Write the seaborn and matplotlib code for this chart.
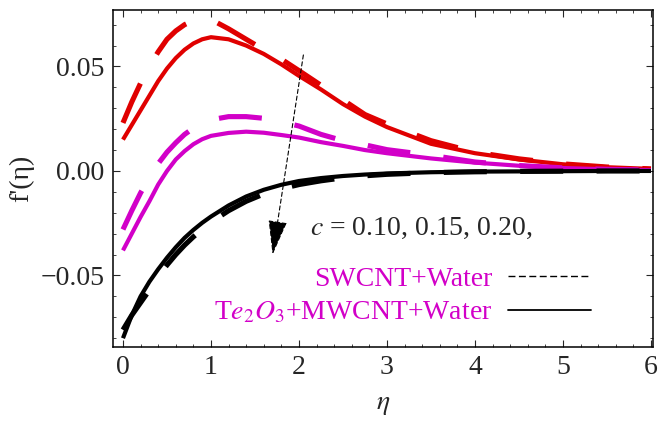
import matplotlib
matplotlib.use("Agg")
import matplotlib.pyplot as plt
import seaborn as sns
import numpy as np
from matplotlib.lines import Line2D
from matplotlib.ticker import MultipleLocator, FuncFormatter

# data
eta = [0, 0.1, 0.2, 0.3, 0.4, 0.5, 0.6, 0.7, 0.8, 0.9, 1.0, 1.2, 1.4, 1.6, 1.8,
       2.0, 2.25, 2.5, 2.75, 3.0, 3.5, 4.0, 4.5, 5.0, 5.5, 6.0]

red_solid = [0.015, 0.022, 0.029, 0.036, 0.043, 0.049, 0.054, 0.058, 0.061, 0.063,
             0.064, 0.063, 0.060, 0.056, 0.051, 0.0455, 0.039, 0.032, 0.026, 0.021,
             0.013, 0.0085, 0.0055, 0.0032, 0.0018, 0.001]
red_dash = [0.023, 0.033, 0.042, 0.050, 0.057, 0.063, 0.067, 0.070, 0.072, 0.0728,
            0.0725, 0.068, 0.063, 0.058, 0.0535, 0.048, 0.041, 0.034, 0.027, 0.0225,
            0.0145, 0.009, 0.0058, 0.0034, 0.0019, 0.001]
mag_solid = [-0.038, -0.030, -0.022, -0.0145, -0.0065, 0.0, 0.0055, 0.0095, 0.0128, 0.0152,
             0.0168, 0.0182, 0.0188, 0.0183, 0.0172, 0.016, 0.0138, 0.012, 0.010, 0.0085,
             0.006, 0.004, 0.0025, 0.0014, 0.0008, 0.0004]
mag_dash = [-0.028, -0.019, -0.0105, -0.003, 0.0035, 0.009, 0.0135, 0.0175, 0.0205, 0.023,
            0.0245, 0.026, 0.026, 0.0252, 0.0235, 0.0215, 0.0175, 0.0145, 0.0125, 0.0102,
            0.0075, 0.0043, 0.0026, 0.0015, 0.0008, 0.0004]
blk_solid = [-0.080, -0.069, -0.060, -0.053, -0.047, -0.0415, -0.0365, -0.032, -0.0282, -0.0248,
             -0.0218, -0.0165, -0.0122, -0.009, -0.0066, -0.0048, -0.0034, -0.0024, -0.0017,
             -0.0012, -0.0006, -0.0003, -0.0002, -0.0001, 0.0, 0.0]
blk_dash = [-0.076, -0.069, -0.063, -0.057, -0.0505, -0.045, -0.040, -0.0355, -0.0315, -0.028,
            -0.0245, -0.019, -0.0145, -0.011, -0.0085, -0.0065, -0.0047, -0.0033, -0.0023,
            -0.0016, -0.0008, -0.0004, -0.0002, -0.0001, 0.0, 0.0]

arrow_start = (2.05, 0.0555)
arrow_end = (1.70, -0.040)

RED = "#e00000"
MAG = "#d200c8"

sns.set_style("ticks")
plt.rcParams["font.family"] = ["Liberation Serif", "DejaVu Serif"]
plt.rcParams["mathtext.fontset"] = "stix"
plt.rcParams["lines.scale_dashes"] = False

fig = plt.figure(figsize=(6.58, 4.21), dpi=100)
ax = fig.add_axes([0.1717, 0.1758, 0.8207, 0.8004])

long_dash = (0, (31, 24))
for solid, dash, col in [(red_solid, red_dash, RED),
                         (mag_solid, mag_dash, MAG),
                         (blk_solid, blk_dash, "black")]:
    sns.lineplot(x=eta, y=solid, ax=ax, color=col, lw=3.0, solid_capstyle="butt")
    sns.lineplot(x=eta, y=dash, ax=ax, color=col, lw=3.7, linestyle=long_dash,
                 dash_capstyle="butt")

# arrow showing increasing c
ax.annotate("", xy=arrow_end, xytext=arrow_start,
            arrowprops=dict(arrowstyle="-|>,head_length=1.1,head_width=0.3",
                            color="black", lw=0.8, linestyle=(0, (3, 2)),
                            mutation_scale=20, shrinkA=0, shrinkB=0))

ax.text(2.12, -0.0273, r"$c$ = 0.10, 0.15, 0.20,", fontsize=20, va="center", ha="left")

handles = [Line2D([], [], color="black", lw=1.0, linestyle=(0, (5, 2.5))),
           Line2D([], [], color="black", lw=1.3)]
labels = ["SWCNT+Water", r"T$e_2O_3$+MWCNT+Water"]
ax.legend(handles, labels, loc="upper right", bbox_to_anchor=(0.885, 0.24),
          frameon=False, markerfirst=False, fontsize=20, labelcolor=MAG,
          handlelength=3.0, handletextpad=0.55, labelspacing=0.3,
          borderpad=0, borderaxespad=0)

ax.set_xlim(-0.1136, 6.023)
ax.set_ylim(-0.0842, 0.0770)
ax.xaxis.set_major_locator(MultipleLocator(1))
ax.xaxis.set_minor_locator(MultipleLocator(0.2))
ax.yaxis.set_major_locator(MultipleLocator(0.05))
ax.yaxis.set_minor_locator(MultipleLocator(0.01))
ax.yaxis.set_major_formatter(FuncFormatter(lambda v, p: f"{v:.2f}".replace("-", "\u2212")))
ax.tick_params(which="both", direction="in", top=True, right=True, labelsize=20, pad=6)
ax.tick_params(which="major", length=5, width=0.8)
ax.tick_params(which="minor", length=2.5, width=0.6)
for sp in ax.spines.values():
    sp.set_linewidth(1.1)
    sp.set_color("black")

ax.set_xlabel(r"$\eta$", fontsize=20)
ax.set_ylabel("f'(η)", fontsize=20)
ax.xaxis.set_label_coords(0.5, -0.135)
ax.yaxis.set_label_coords(-0.145, 0.5)

fig.savefig("out.png", dpi=100)
